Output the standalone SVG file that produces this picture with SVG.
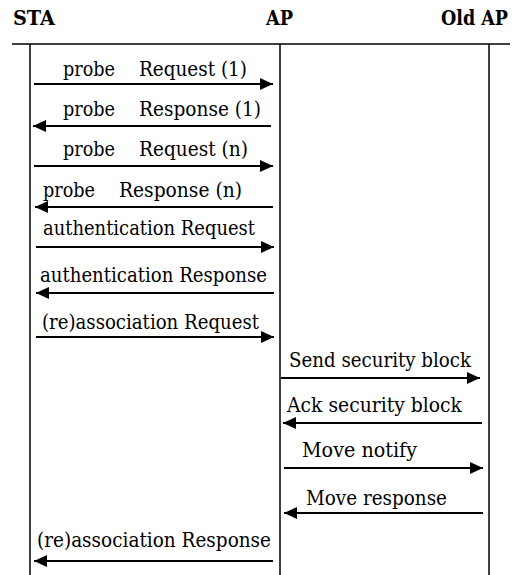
<svg xmlns="http://www.w3.org/2000/svg" width="521" height="575" viewBox="0 0 521 575">
  <style>
    text { font-family: 'DejaVu Serif', serif; fill: #000; }
    .head { font-weight: bold; font-size: 20.5px; }
    .lbl { font-size: 19.5px; }
    .life { stroke: #000; stroke-width: 1.5; fill: none; }
    .msg { stroke: #000; stroke-width: 2; fill: none; marker-end: url(#arrow); }
  </style>
  <defs>
    <marker id="arrow" markerUnits="userSpaceOnUse" markerWidth="14" markerHeight="12" refX="13" refY="6" orient="auto">
      <path d="M0,0 L13,6 L0,12 z" fill="#000"/>
    </marker>
  </defs>
  <rect width="521" height="575" fill="#fff"/>

  <!-- participants -->
  <g id="sta">
    <text class="head" x="13" y="25" textLength="42" lengthAdjust="spacingAndGlyphs">STA</text>
    <line class="life" x1="30" y1="44" x2="30" y2="575"/>
  </g>
  <g id="ap">
    <text class="head" x="266" y="25" textLength="27" lengthAdjust="spacingAndGlyphs">AP</text>
    <line class="life" x1="280" y1="44" x2="280" y2="575"/>
  </g>
  <g id="old-ap">
    <text class="head" x="441" y="25" textLength="67" lengthAdjust="spacingAndGlyphs">Old AP</text>
    <line class="life" x1="489" y1="44" x2="489" y2="575"/>
  </g>
  <line class="life" x1="12" y1="44" x2="510" y2="44"/>

  <!-- messages -->
  <g id="connectors">
    <line class="msg" x1="34" y1="84" x2="273" y2="84"/>
    <line class="msg" x1="271" y1="126" x2="33" y2="126"/>
    <line class="msg" x1="34" y1="166" x2="273" y2="166"/>
    <line class="msg" x1="273" y1="207" x2="35" y2="207"/>
    <line class="msg" x1="36" y1="247" x2="274" y2="247"/>
    <line class="msg" x1="274" y1="293" x2="36" y2="293"/>
    <line class="msg" x1="36" y1="337" x2="274" y2="337"/>
    <line class="msg" x1="281" y1="378" x2="480" y2="378"/>
    <line class="msg" x1="482" y1="423" x2="283" y2="423"/>
    <line class="msg" x1="284" y1="468" x2="483" y2="468"/>
    <line class="msg" x1="483" y1="513" x2="284" y2="513"/>
    <line class="msg" x1="273" y1="561" x2="34" y2="561"/>
  </g>

  <!-- message labels -->
  <g id="labels">
    <text class="lbl" y="76"><tspan x="63" textLength="52" lengthAdjust="spacingAndGlyphs">probe</tspan><tspan x="139" textLength="108" lengthAdjust="spacingAndGlyphs">Request (1)</tspan></text>
    <text class="lbl" y="116"><tspan x="63" textLength="52" lengthAdjust="spacingAndGlyphs">probe</tspan><tspan x="139" textLength="122" lengthAdjust="spacingAndGlyphs">Response (1)</tspan></text>
    <text class="lbl" y="156"><tspan x="63" textLength="52" lengthAdjust="spacingAndGlyphs">probe</tspan><tspan x="139" textLength="109" lengthAdjust="spacingAndGlyphs">Request (n)</tspan></text>
    <text class="lbl" y="197"><tspan x="43" textLength="52" lengthAdjust="spacingAndGlyphs">probe</tspan><tspan x="119" textLength="123" lengthAdjust="spacingAndGlyphs">Response (n)</tspan></text>
    <text class="lbl" x="43" y="235" textLength="212" lengthAdjust="spacingAndGlyphs">authentication Request</text>
    <text class="lbl" x="40" y="282" textLength="227" lengthAdjust="spacingAndGlyphs">authentication Response</text>
    <text class="lbl" x="42" y="329" textLength="217" lengthAdjust="spacingAndGlyphs">(re)association Request</text>
    <text class="lbl" x="289" y="367" textLength="182" lengthAdjust="spacingAndGlyphs">Send security block</text>
    <text class="lbl" x="287" y="412" textLength="175" lengthAdjust="spacingAndGlyphs">Ack security block</text>
    <text class="lbl" x="302" y="457" textLength="115" lengthAdjust="spacingAndGlyphs">Move notify</text>
    <text class="lbl" x="306" y="505" textLength="141" lengthAdjust="spacingAndGlyphs">Move response</text>
    <text class="lbl" x="37" y="547" textLength="234" lengthAdjust="spacingAndGlyphs">(re)association Response</text>
  </g>
</svg>
